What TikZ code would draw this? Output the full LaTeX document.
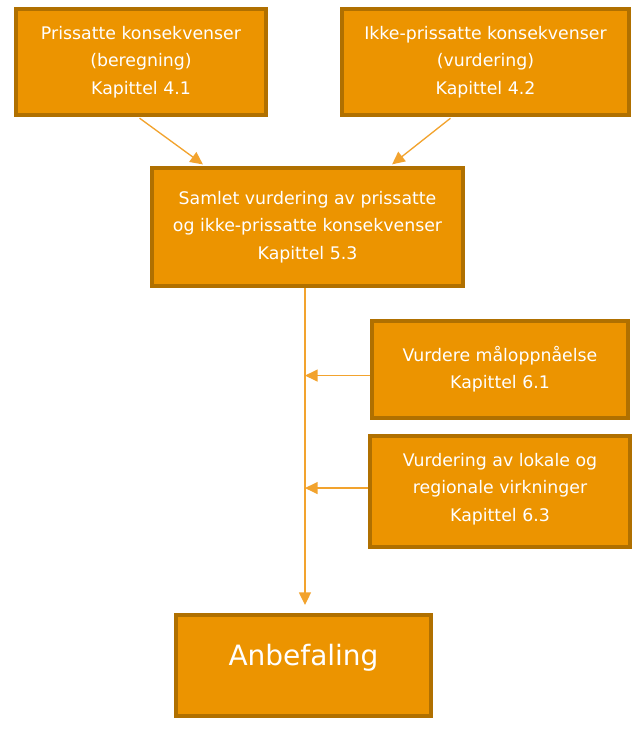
\documentclass[tikz,border=0pt]{standalone}
\usepackage{fontspec}
\setmainfont{DejaVu Sans}
\usetikzlibrary{arrows.meta,calc}

\definecolor{boxfill}{HTML}{EC9400}
\definecolor{boxline}{HTML}{B07000}
\definecolor{arrowcol}{HTML}{F2A32E}

\tikzset{
  box/.style={draw=boxline,fill=boxfill,line width=3pt,text=white,align=center,
    inner sep=0pt,font=\fontsize{13}{20.5}\selectfont},
  arr/.style={draw=arrowcol,line width=1pt,-{Triangle[length=9.5pt,width=9pt]}}
}

\begin{document}
\begin{tikzpicture}[x=0.75pt,y=-0.75pt]
        \useasboundingbox (0,0) rectangle (641,732);

        \begin{scope}[every node/.style={box}]
          \node[minimum width=187.5pt,minimum height=79.5pt] (1) at (141,62)
            {Prissatte konsekvenser\\(beregning)\\Kapittel 4.1};
          \node[minimum width=215.25pt,minimum height=79.5pt] (2) at (485.5,62)
            {Ikke-prissatte konsekvenser\\(vurdering)\\Kapittel 4.2};
          \node[minimum width=233.25pt,minimum height=88.5pt] (3) at (307.5,227)
            {Samlet vurdering av prissatte\\og ikke-prissatte konsekvenser\\Kapittel 5.3};
          \node[minimum width=192pt,minimum height=72.75pt] (4) at (500,369.5)
            {Vurdere måloppnåelse\\Kapittel 6.1};
          \node[minimum width=195pt,minimum height=83.25pt] (5) at (500,491.5)
            {Vurdering av lokale og\\regionale virkninger\\Kapittel 6.3\\[-14pt]};
          \node[minimum width=191.25pt,minimum height=75.75pt,
                font=\fontsize{21}{25}\selectfont,text height=15pt,text depth=15pt] (6) at (303.5,665.5)
            {Anbefaling};
        \end{scope}

        \coordinate (top) at ($(3.south west)!0.492!(3.south east)$);
        \coordinate (m4) at ($(4.north west)!0.56!(4.south west)$);
        \coordinate (m5) at ($(5.north west)!0.47!(5.south west)$);

        \begin{scope}[every edge/.style={arr}]
          \path ($(1.south west)!0.488!(1.south east)$) edge[shorten <=1.5pt,shorten >=2pt]
                ($(3.north west)!0.175!(3.north east)$);
          \path ($(2.south west)!0.385!(2.south east)$) edge[shorten <=1.5pt,shorten >=2pt]
                ($(3.north west)!0.762!(3.north east)$);
          \path (top) edge[shorten >=6pt] (top |- 6.north);
          \path (m4) edge (m4 -| top);
          \path (m5) edge (m5 -| top);
        \end{scope}

      \end{tikzpicture}
\end{document}
